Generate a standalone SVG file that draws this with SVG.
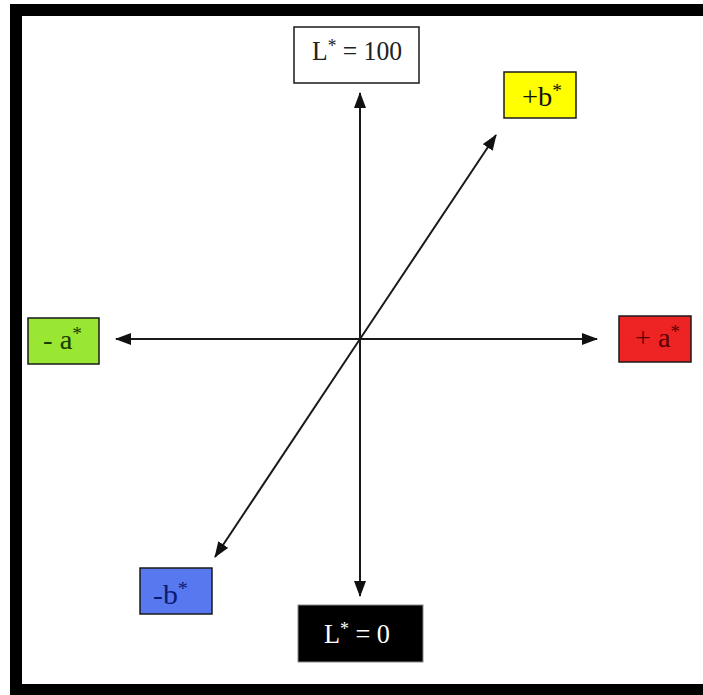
<svg xmlns="http://www.w3.org/2000/svg" width="703" height="695" viewBox="0 0 703 695">
<style>
.box{stroke:#1a1a1a;stroke-width:1.5}
.t{font-family:"Liberation Serif","Times New Roman",serif;font-size:28px}
.s{font-size:19px}
.ax{stroke:#1a1a1a;stroke-width:2;fill:none}
</style>
<defs>
<marker id="ah" viewBox="0 0 16 12" refX="15" refY="6" markerWidth="16" markerHeight="12" markerUnits="userSpaceOnUse" orient="auto">
<path d="M0,0 L16,6 L0,12 Z" fill="#111"/>
</marker>
</defs>
<rect width="703" height="695" fill="#fff"/>
<g id="frame" fill="#000">
<rect x="10" y="4" width="693" height="12"/>
<rect x="10" y="4" width="12" height="691"/>
<rect x="10" y="684" width="693" height="11"/>
</g>
<g id="connectors">
<line class="ax" x1="360" y1="339" x2="360" y2="93" marker-end="url(#ah)"/>
<line class="ax" x1="360" y1="339" x2="360" y2="596" marker-end="url(#ah)"/>
<line class="ax" x1="360" y1="339" x2="116" y2="339" marker-end="url(#ah)"/>
<line class="ax" x1="360" y1="339" x2="597" y2="339" marker-end="url(#ah)"/>
<line class="ax" x1="360" y1="339" x2="496" y2="135" marker-end="url(#ah)"/>
<line class="ax" x1="360" y1="339" x2="215" y2="557" marker-end="url(#ah)"/>
</g>
<g id="L100">
<rect class="box" x="294" y="27" width="125" height="56" fill="#fff"/>
<text class="t" x="312" y="60" fill="#222" textLength="90" lengthAdjust="spacingAndGlyphs">L<tspan class="s" dy="-8">*</tspan><tspan dy="8"> = 100</tspan></text>
</g>
<g id="plusb">
<rect class="box" x="504" y="72" width="72" height="46" fill="#ffff00"/>
<text class="t" x="522" y="106" fill="#111" textLength="40" lengthAdjust="spacingAndGlyphs">+b<tspan class="s" dy="-9">*</tspan></text>
</g>
<g id="minusa">
<rect class="box" x="28" y="318" width="71" height="46" fill="#99e633"/>
<text class="t" x="43" y="349" fill="#173d00" textLength="39" lengthAdjust="spacingAndGlyphs">- a<tspan class="s" dy="-9">*</tspan></text>
</g>
<g id="plusa">
<rect class="box" x="619" y="316" width="72" height="46" fill="#ee2424"/>
<text class="t" x="635" y="347" fill="#5a0000" textLength="45" lengthAdjust="spacingAndGlyphs">+ a<tspan class="s" dy="-9">*</tspan></text>
</g>
<g id="minusb">
<rect class="box" x="140" y="568" width="72" height="46" fill="#5878f0" stroke="#0a1a60"/>
<text class="t" x="153" y="604" fill="#0a1a70" textLength="35" lengthAdjust="spacingAndGlyphs">-b<tspan class="s" dy="-9">*</tspan></text>
</g>
<g id="L0">
<rect x="298" y="605" width="125" height="57" fill="#000" stroke="#888" stroke-width="1"/>
<text class="t" x="324" y="643" fill="#fff" textLength="66" lengthAdjust="spacingAndGlyphs">L<tspan class="s" dy="-8">*</tspan><tspan dy="8"> = 0</tspan></text>
</g>
</svg>
